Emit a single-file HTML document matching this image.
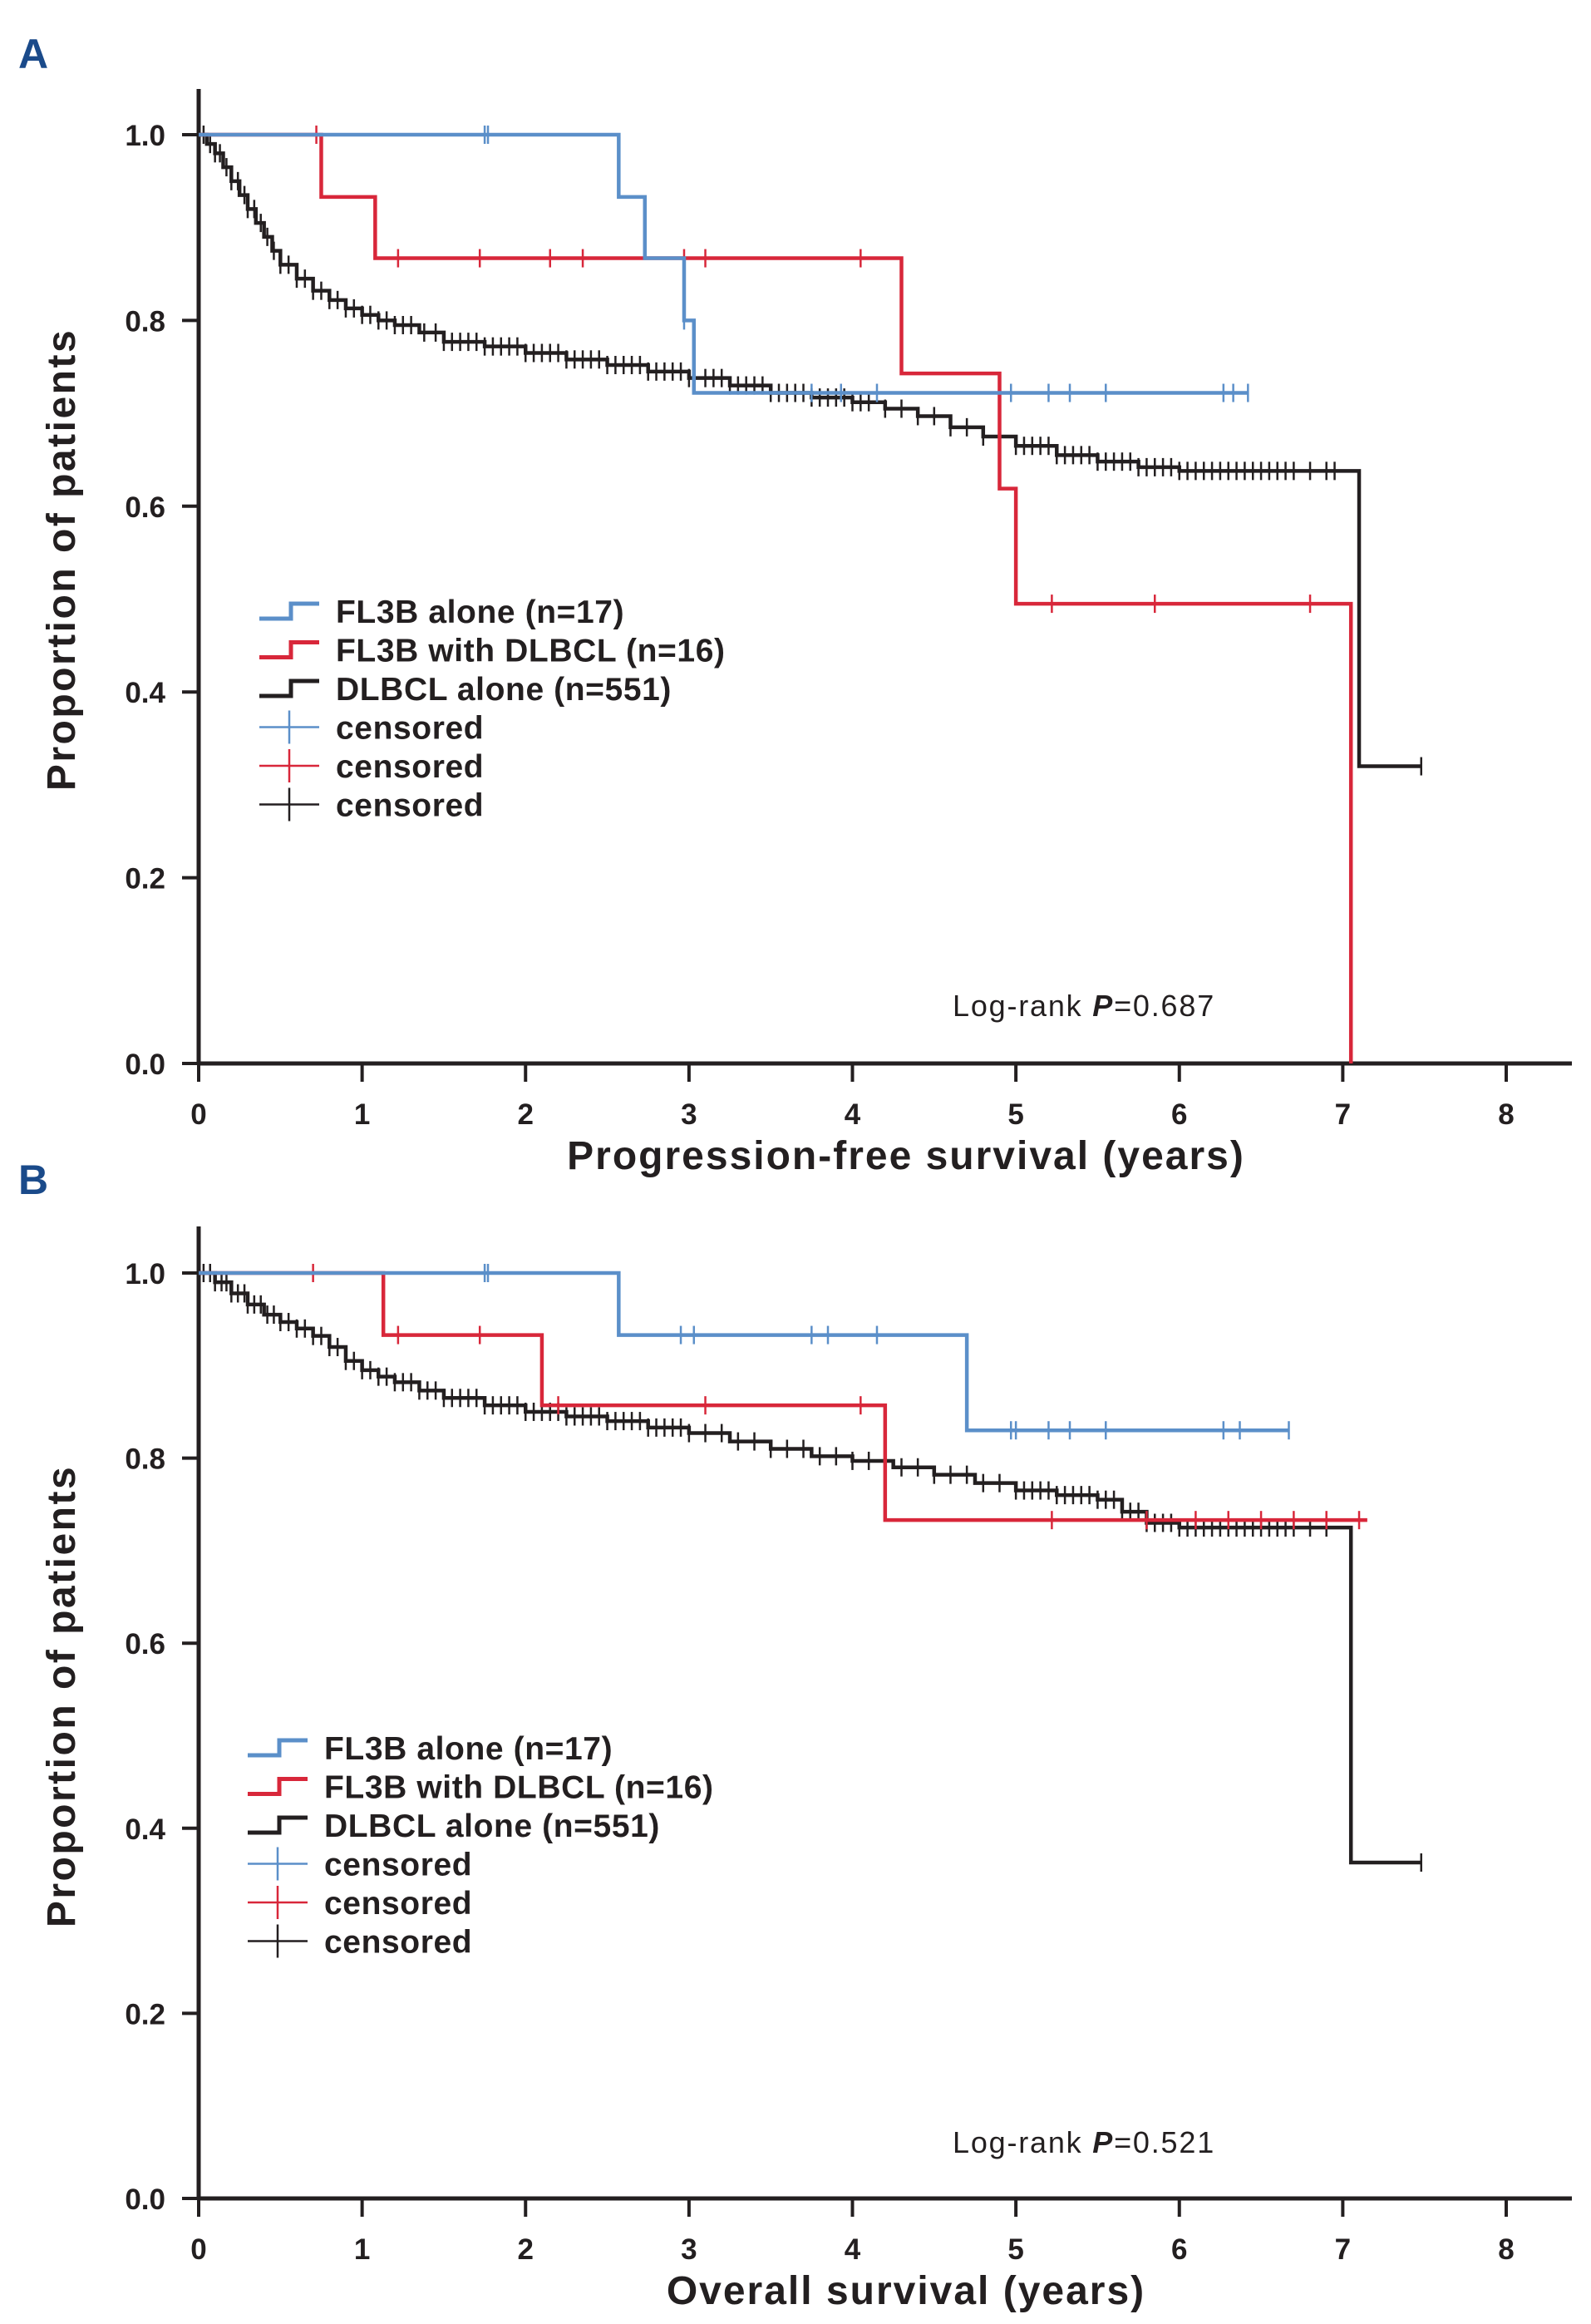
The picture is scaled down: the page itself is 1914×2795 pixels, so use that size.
<!DOCTYPE html>
<html><head><meta charset="utf-8"><style>
body{margin:0;background:#fff}
svg{display:block}
text{font-family:"Liberation Sans",Arial,sans-serif;fill:#231f20}
</style></head><body>
<svg id="chart" width="1914" height="2795" viewBox="0 0 1914 2795" xmlns="http://www.w3.org/2000/svg"></svg>
<script>
const xTicks=[0,1,2,3,4,5,6,7,8];
const yTicks=[0.0,0.2,0.4,0.6,0.8,1.0];
const legendLabels=["FL3B alone (n=17)","FL3B with DLBCL (n=16)","DLBCL alone (n=551)","censored","censored","censored"];
// Panel A (PFS)
const aBlueT=[0,2.57,2.73,2.97,3.03,6.42];
const aBlueS=[1.0,0.933,0.867,0.80,0.722,0.722];
const aBlueC=[1.75,1.77,2.97,3.75,3.93,4.15,4.97,5.2,5.33,5.55,6.27,6.33,6.42];
const aRedT=[0,0.75,1.08,4.3,4.9,5.0,7.05];
const aRedS=[1.0,0.933,0.867,0.743,0.619,0.495,0.0];
const aRedC=[0.72,1.22,1.72,2.15,2.35,2.97,3.1,4.05,5.22,5.85,6.8];
const aBlkT=[0,0.05,0.1,0.15,0.2,0.25,0.3,0.35,0.4,0.45,0.5,0.6,0.7,0.8,0.9,1.0,1.1,1.2,1.35,1.5,1.75,2.0,2.25,2.5,2.75,3.0,3.25,3.5,3.75,4.0,4.2,4.4,4.6,4.8,5.0,5.25,5.5,5.75,6.0,7.1,7.48];
const aBlkS=[1.0,0.99,0.98,0.965,0.95,0.935,0.92,0.905,0.89,0.875,0.86,0.845,0.832,0.822,0.813,0.806,0.80,0.795,0.787,0.777,0.772,0.765,0.758,0.752,0.745,0.738,0.73,0.722,0.717,0.712,0.705,0.697,0.685,0.675,0.665,0.655,0.648,0.642,0.638,0.32,0.32];
const aBlkC=[0.03,0.07,0.1,0.13,0.17,0.2,0.24,0.28,0.3,0.34,0.38,0.42,0.46,0.5,0.55,0.6,0.65,0.7,0.75,0.8,0.85,0.9,0.95,1.0,1.05,1.1,1.15,1.2,1.25,1.3,1.38,1.45,1.5,1.55,1.6,1.65,1.7,1.75,1.8,1.85,1.9,1.95,2.0,2.05,2.1,2.15,2.2,2.25,2.3,2.35,2.4,2.45,2.5,2.55,2.6,2.65,2.7,2.75,2.8,2.85,2.9,2.95,3.0,3.1,3.15,3.2,3.25,3.3,3.35,3.4,3.45,3.5,3.55,3.6,3.65,3.7,3.75,3.8,3.85,3.9,3.95,4.0,4.05,4.1,4.2,4.3,4.4,4.5,4.6,4.7,4.8,4.9,5.0,5.05,5.1,5.15,5.2,5.25,5.3,5.35,5.4,5.45,5.5,5.55,5.6,5.65,5.7,5.75,5.8,5.85,5.9,5.95,6.0,6.05,6.1,6.15,6.2,6.25,6.3,6.35,6.4,6.45,6.5,6.55,6.6,6.65,6.7,6.8,6.9,6.95,7.48];
// Panel B (OS)
const bBlueT=[0,2.57,4.7,6.67];
const bBlueS=[1.0,0.933,0.83,0.83];
const bBlueC=[1.75,1.77,2.95,3.03,3.75,3.85,4.15,4.97,5.0,5.2,5.33,5.55,6.27,6.37,6.67];
const bRedT=[0,1.13,2.1,4.2,7.15];
const bRedS=[1.0,0.933,0.857,0.733,0.733];
const bRedC=[0.7,1.22,1.72,2.2,3.1,4.05,5.22,5.8,6.1,6.3,6.5,6.7,6.9,7.1];
const bBlkT=[0,0.1,0.2,0.3,0.4,0.5,0.6,0.7,0.8,0.9,1.0,1.1,1.2,1.35,1.5,1.75,2.0,2.25,2.5,2.75,3.0,3.25,3.5,3.75,4.0,4.25,4.5,4.75,5.0,5.25,5.5,5.65,5.8,6.0,7.05,7.48];
const bBlkS=[1.0,0.99,0.978,0.966,0.955,0.947,0.94,0.932,0.92,0.905,0.895,0.888,0.882,0.873,0.865,0.857,0.85,0.845,0.84,0.833,0.827,0.818,0.81,0.802,0.797,0.79,0.782,0.773,0.765,0.76,0.755,0.742,0.73,0.725,0.363,0.363];
const bBlkC=[0.03,0.07,0.1,0.14,0.17,0.2,0.24,0.28,0.3,0.34,0.38,0.42,0.46,0.5,0.55,0.6,0.65,0.7,0.75,0.8,0.85,0.9,0.95,1.0,1.05,1.1,1.15,1.2,1.25,1.3,1.35,1.4,1.45,1.5,1.55,1.6,1.65,1.7,1.75,1.8,1.85,1.9,1.95,2.0,2.05,2.1,2.15,2.2,2.25,2.3,2.35,2.4,2.45,2.5,2.55,2.6,2.65,2.7,2.75,2.8,2.85,2.9,2.95,3.0,3.1,3.2,3.3,3.4,3.5,3.6,3.7,3.8,3.9,4.0,4.1,4.2,4.3,4.4,4.5,4.6,4.7,4.8,4.9,5.0,5.05,5.1,5.15,5.2,5.25,5.3,5.35,5.4,5.45,5.5,5.55,5.6,5.65,5.7,5.75,5.8,5.85,5.9,5.95,6.0,6.05,6.1,6.15,6.2,6.25,6.3,6.35,6.4,6.45,6.5,6.55,6.6,6.65,6.7,6.8,6.9,7.48];

const NS="http://www.w3.org/2000/svg";
const svg=document.getElementById('chart');
function el(t,a,p){const e=document.createElementNS(NS,t);for(const k in a)e.setAttribute(k,a[k]);(p||svg).appendChild(e);return e;}
const X0=239,X8=1812;
function xs(v){return X0+(X8-X0)*v/8;}
function stepAt(T,S,t){let s=S[0];for(let i=0;i<T.length;i++){if(T[i]<=t)s=S[i];}return s;}

function panel(cfg){
  const g=el('g',{});
  
  
  const ys=v=>cfg.y0+(cfg.y1-cfg.y0)*v;
  const L=el('text',{x:22,y:cfg.letterY,'font-size':50,'font-weight':'bold',style:'fill:#1a4a8a'},g);
  L.textContent=cfg.letter;
  
  
  const ya=el('line',{x1:X0,y1:cfg.top,x2:X0,y2:cfg.y0+2,stroke:'#231f20','stroke-width':5},g);
  
  
  const xa=el('line',{x1:X0-2,y1:cfg.y0,x2:1891,y2:cfg.y0,stroke:'#231f20','stroke-width':5},g);
  
  
  xTicks.forEach(v=>{
    el('line',{x1:xs(v),y1:cfg.y0,x2:xs(v),y2:cfg.y0+22,stroke:'#231f20','stroke-width':4},g);
    const t=el('text',{x:xs(v),y:cfg.y0+73,'font-size':35,'font-weight':'bold','text-anchor':'middle'},g);
    t.textContent=v;
    
    
  });
  yTicks.forEach(v=>{
    el('line',{x1:X0-20,y1:ys(v),x2:X0,y2:ys(v),stroke:'#231f20','stroke-width':4},g);
    const t=el('text',{x:199,y:ys(v)+13,'font-size':35,'font-weight':'bold','text-anchor':'end'},g);
    t.textContent=v.toFixed(1);
    
    
  });
  const xt=el('text',{x:1090,y:cfg.y0+127,'font-size':48,'font-weight':'bold','text-anchor':'middle','letter-spacing':'2'},g);
  xt.textContent=cfg.xTitle;
  
  
  const yt=el('text',{x:0,y:0,'font-size':48,'font-weight':'bold','text-anchor':'middle','letter-spacing':'2.5',transform:`translate(90,${cfg.yTitleY}) rotate(-90)`},g);
  yt.textContent='Proportion of patients';
  
  
  const lr=el('text',{x:1146,y:cfg.lrY,'font-size':36,'letter-spacing':'1.8'},g);
  lr.innerHTML='Log-rank <tspan font-weight="bold" font-style="italic">P</tspan>='+cfg.p;
  
  
  cfg.series.forEach(s=>{
    let d='M'+xs(s.T[0])+','+ys(s.S[0]);
    for(let i=1;i<s.T.length;i++){d+=' H'+xs(s.T[i])+' V'+ys(s.S[i]);}
    const p=el('path',{d:d,fill:'none',stroke:s.c,'stroke-width':s.w},g);
    
    
    s.C.forEach(t=>{
      const yy=ys(stepAt(s.T,s.S,t));
      const m=el('line',{x1:xs(t),y1:yy-11,x2:xs(t),y2:yy+11,stroke:s.c,'stroke-width':2.5},g);
      
      
    });
  });
  const cols=['#5b8fc9','#d8273a','#231f20'];
  legendLabels.forEach((lab,i)=>{
    const y=cfg.legY+i*46.5, lx=cfg.legX;
    const c=cols[i%3];
    if(i<3){
      el('path',{d:`M${lx},${y} H${lx+38} V${y-18} H${lx+72}`,fill:'none',stroke:c,'stroke-width':5},g);
    }else{
      el('line',{x1:lx,y1:y-9,x2:lx+72,y2:y-9,stroke:c,'stroke-width':2.5},g);
      el('line',{x1:lx+36,y1:y-29,x2:lx+36,y2:y+11,stroke:c,'stroke-width':2.5},g);
    }
    const t=el('text',{x:lx+92,y:y+5,'font-size':39,'font-weight':'bold','letter-spacing':'0.6'},g);
    t.textContent=lab;
    
    
  });
}
panel({name:'panel-a-pfs',letter:'A',letterY:82,top:107,y0:1279,y1:162,xTitle:'Progression-free survival (years)',yTitleY:673,lrY:1222,p:'0.687',legX:312,legY:744,
  series:[
    {name:'dlbcl-alone',T:aBlkT,S:aBlkS,C:aBlkC,c:'#231f20',w:4.5},
    {name:'fl3b-with-dlbcl',T:aRedT,S:aRedS,C:aRedC,c:'#d8273a',w:4.5},
    {name:'fl3b-alone',T:aBlueT,S:aBlueS,C:aBlueC,c:'#5b8fc9',w:4.5}
  ]});
panel({name:'panel-b-os',letter:'B',letterY:1436,top:1475,y0:2644,y1:1531,xTitle:'Overall survival (years)',yTitleY:2040,lrY:2589,p:'0.521',legX:298,legY:2111,
  series:[
    {name:'dlbcl-alone',T:bBlkT,S:bBlkS,C:bBlkC,c:'#231f20',w:4.5},
    {name:'fl3b-with-dlbcl',T:bRedT,S:bRedS,C:bRedC,c:'#d8273a',w:4.5},
    {name:'fl3b-alone',T:bBlueT,S:bBlueS,C:bBlueC,c:'#5b8fc9',w:4.5}
  ]});
</script>
</body></html>
